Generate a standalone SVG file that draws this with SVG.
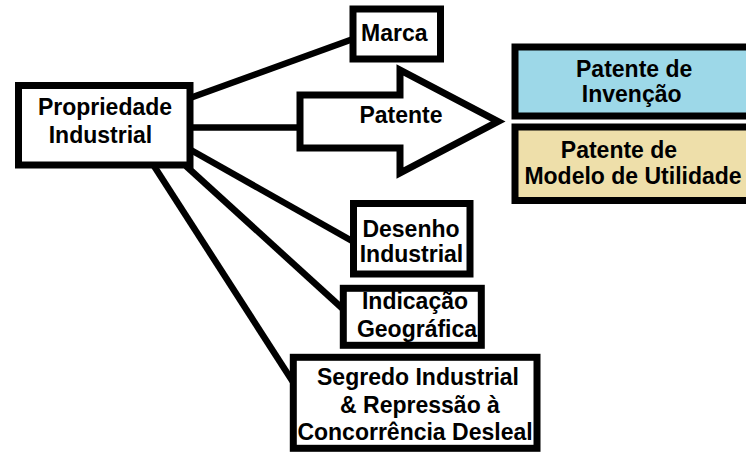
<svg xmlns="http://www.w3.org/2000/svg" width="746" height="452" viewBox="0 0 746 452">
<style>
.box{fill:#fff;stroke:#000;stroke-width:7}
.conn{stroke:#000;stroke-width:6.5;fill:none}
text{font-family:"Liberation Sans",Arial,sans-serif;font-weight:bold;font-size:23px;fill:#000;text-anchor:middle}
</style>
<rect width="746" height="452" fill="#fff"/>
<g id="connectors">
<line class="conn" x1="190" y1="98" x2="353" y2="39"/>
<line class="conn" x1="190" y1="127.5" x2="300" y2="127.5"/>
<line class="conn" x1="190" y1="149.5" x2="353" y2="241.5"/>
<line class="conn" x1="186" y1="166" x2="343" y2="309"/>
<line class="conn" x1="154" y1="166" x2="293" y2="382"/>
</g>
<g id="propriedade">
<rect class="box" x="18.5" y="85.5" width="171.5" height="79.5"/>
<text x="105" y="115">Propriedade</text>
<text x="100.5" y="142.7">Industrial</text>
</g>
<g id="marca">
<rect class="box" x="353" y="9" width="87.5" height="50"/>
<text x="394.3" y="41">Marca</text>
</g>
<g id="patente">
<polygon class="box" points="300,95 400,95 400,70 498,121.5 400,173 400,148 300,148" stroke-linejoin="miter"/>
<text x="401" y="123.3">Patente</text>
</g>
<g id="patente-invencao">
<rect x="515" y="47" width="250" height="69" fill="#9DD8E8" stroke="#000" stroke-width="7"/>
<text x="634.2" y="76.7">Patente de</text>
<text x="631.7" y="101.5">Invenção</text>
</g>
<g id="patente-modelo">
<rect x="515" y="127" width="250" height="73.5" fill="#EEDFAA" stroke="#000" stroke-width="7"/>
<text x="619" y="158.3">Patente de</text>
<text x="633" y="184">Modelo de Utilidade</text>
</g>
<g id="desenho">
<rect class="box" x="353.5" y="203.5" width="116.5" height="70.5"/>
<text x="411" y="236.7">Desenho</text>
<text x="411.5" y="261.7">Industrial</text>
</g>
<g id="indicacao">
<rect class="box" x="343.3" y="288.3" width="138" height="57"/>
<text x="415" y="309.3">Indicação</text>
<text x="417" y="336.7">Geográfica</text>
</g>
<g id="segredo">
<rect class="box" x="293.3" y="357.3" width="243.7" height="91"/>
<text x="418" y="385">Segredo Industrial</text>
<text x="420" y="412.7">&amp; Repressão à</text>
<text x="415" y="440">Concorrência Desleal</text>
</g>
</svg>
